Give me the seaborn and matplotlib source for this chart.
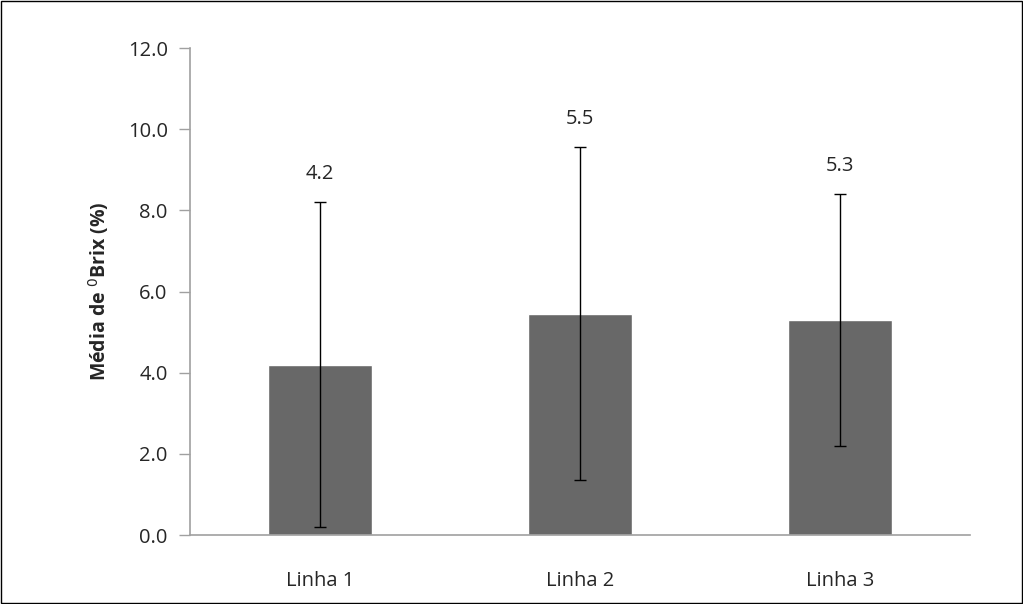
import matplotlib
matplotlib.use("Agg")
import matplotlib.pyplot as plt
import seaborn as sns
import pandas as pd
from matplotlib.patches import Rectangle

categories = ["Linha 1", "Linha 2", "Linha 3"]
means = [4.2, 5.45, 5.3]
errors = [4.0, 4.1, 3.1]
labels = ["4.2", "5.5", "5.3"]
yticks = [0, 2, 4, 6, 8, 10, 12]

sns.set_theme(style="white")
plt.rcParams["font.family"] = ["Open Sans", "DejaVu Sans"]

df = pd.DataFrame({"cat": categories, "mean": means})

fig = plt.figure(figsize=(10.23, 6.04), dpi=100)
ax = fig.add_axes([0.1857, 0.1142, 0.948 - 0.1857, 0.9205 - 0.1142])

sns.barplot(data=df, x="cat", y="mean", color="#686868", saturation=1,
            width=0.4, ax=ax, errorbar=None)
ax.errorbar(range(len(categories)), means, yerr=errors, fmt="none",
            ecolor="black", elinewidth=1, capsize=4, capthick=1)

for i, (m, e, l) in enumerate(zip(means, errors, labels)):
    ax.text(i, m + e + 0.7, l, ha="center", va="center", fontsize=14.5, color="#262626")

ax.set_xlim(-0.5, len(categories) - 0.5)
ax.set_ylim(0, 12)
ax.set_yticks(yticks)
ax.set_yticklabels([f"{v:.1f}" for v in yticks], fontsize=14.5, color="#262626")
ax.tick_params(axis="x", labelsize=14.5, colors="#262626", length=0, pad=26)
ax.tick_params(axis="y", length=8, width=1, color="#a0a0a0", left=True, pad=8)
ax.set_xlabel("")
ax.set_ylabel("Média de $^{0}$Brix (%)", fontsize=14, fontweight="bold", labelpad=12)

for s in ["top", "right"]:
    ax.spines[s].set_visible(False)
for s in ["left", "bottom"]:
    ax.spines[s].set_color("#a0a0a0")
    ax.spines[s].set_linewidth(1.2)

fig.patches.append(Rectangle((0.001, 0.001), 0.998, 0.997, transform=fig.transFigure,
                             fill=False, edgecolor="black", linewidth=1))

fig.savefig("out.png", dpi=100)
